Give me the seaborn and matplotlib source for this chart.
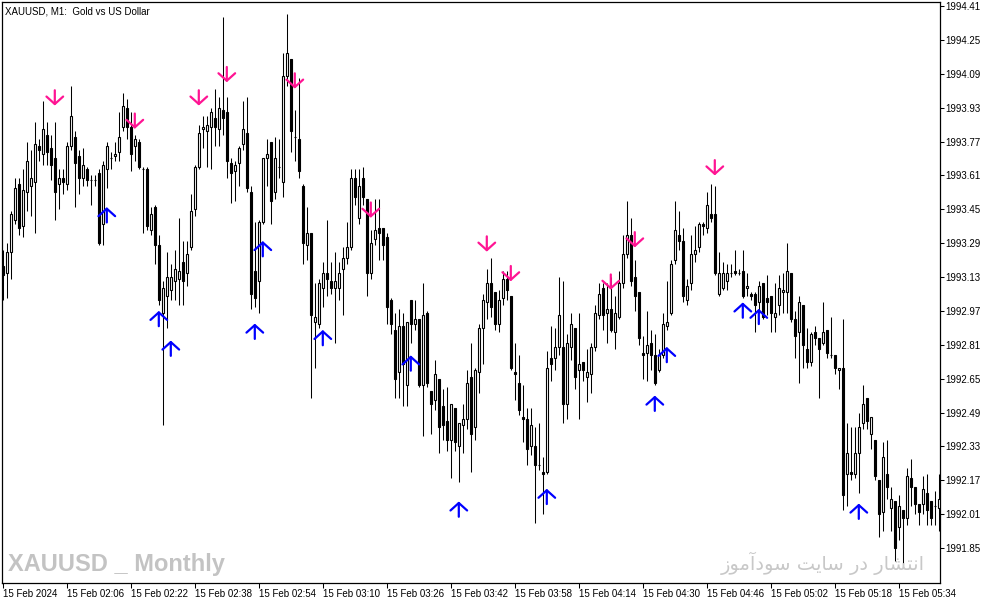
import numpy as np
import pandas as pd
import matplotlib
matplotlib.use("Agg")
import matplotlib.pyplot as plt
import seaborn as sns

# ── Chart data (XAUUSD M1, 15 Feb 2024) ──────────────────────────────────────
opens = [
    1993.18, 1993.15, 1993.25, 1993.40, 1993.57, 1993.37, 1993.53, 1993.56, 1993.58, 1993.75,
    1993.71, 1993.80, 1993.74, 1993.69, 1993.57, 1993.60, 1993.57, 1993.75, 1993.79, 1993.70,
    1993.60, 1993.64, 1993.59, 1993.59, 1993.62, 1993.38, 1993.64, 1993.69, 1993.70, 1993.72,
    1993.84, 1993.93, 1993.84, 1993.75, 1993.77, 1993.64, 1993.64, 1993.35, 1993.46, 1993.28,
    1992.96, 1993.04, 1993.07, 1993.11, 1993.12, 1993.20, 1993.15, 1993.27, 1993.45, 1993.65,
    1993.83, 1993.82, 1993.84, 1993.88, 1993.83, 1993.92, 1993.91, 1993.67, 1993.63, 1993.67,
    1993.76, 1993.81, 1993.53, 1993.16, 1993.11, 1993.39, 1993.69, 1993.77, 1993.53, 1993.65,
    1993.58, 1994.08, 1994.16, 1993.79, 1993.78, 1993.56, 1993.28, 1993.34, 1992.92, 1992.91,
    1993.08, 1993.15, 1993.11, 1993.08, 1993.08, 1993.17, 1993.22, 1993.27, 1993.60, 1993.41,
    1993.60, 1993.50, 1993.15, 1993.31, 1993.36, 1993.36, 1993.32, 1993.02, 1992.88, 1992.68,
    1992.90, 1992.62, 1993.02, 1992.91, 1992.93, 1992.62, 1992.96, 1992.59, 1992.55, 1992.65,
    1992.52, 1992.45, 1992.36, 1992.51, 1992.33, 1992.43, 1992.46, 1992.66, 1992.42, 1992.68,
    1992.89, 1993.01, 1993.10, 1993.06, 1992.91, 1993.03, 1993.12, 1993.04, 1992.68, 1992.63,
    1992.47, 1992.46, 1992.33, 1992.33, 1992.24, 1992.21, 1992.21, 1992.75, 1992.75, 1992.80,
    1992.80, 1992.53, 1992.80, 1992.89, 1992.69, 1992.73, 1992.66, 1992.67, 1992.80, 1992.95,
    1993.08, 1992.96, 1992.98, 1992.87, 1992.94, 1993.10, 1993.24, 1993.33, 1993.13, 1993.06,
    1992.77, 1992.77, 1992.82, 1992.76, 1992.69, 1992.76, 1992.90, 1992.96, 1993.21, 1993.33,
    1993.30, 1993.02, 1993.10, 1993.24, 1993.27, 1993.38, 1993.36, 1993.43, 1993.43, 1993.05,
    1993.08, 1993.11, 1993.15, 1993.16, 1993.15, 1993.16, 1993.08, 1993.05, 1993.05, 1993.01,
    1993.10, 1993.03, 1993.04, 1992.94, 1993.00, 1993.06, 1993.06, 1993.15, 1992.93, 1992.87,
    1993.00, 1992.79, 1992.73, 1992.87, 1992.84, 1992.82, 1992.88, 1992.76, 1992.76, 1992.69,
    1992.70, 1992.20, 1992.21, 1992.20, 1992.30, 1992.44, 1992.56, 1992.39, 1992.36, 1992.17,
    1992.02, 1992.20, 1992.04, 1992.07, 1991.95, 1992.03, 1991.99, 1992.18, 1992.14, 1992.06,
    1992.06, 1992.11, 1992.07, 1992.05, 1992.04,
]
highs = [
    1993.26, 1993.29, 1993.44, 1993.60, 1993.60, 1993.64, 1993.77, 1993.73, 1993.86, 1993.78,
    1993.96, 1993.86, 1993.80, 1993.86, 1993.64, 1993.64, 1993.77, 1994.03, 1993.82, 1993.73,
    1993.74, 1993.65, 1993.61, 1993.61, 1993.64, 1993.68, 1993.77, 1993.72, 1993.77, 1993.91,
    1994.00, 1993.97, 1993.91, 1993.80, 1993.78, 1993.65, 1993.65, 1993.46, 1993.47, 1993.33,
    1993.11, 1993.25, 1993.19, 1993.26, 1993.41, 1993.30, 1993.30, 1993.52, 1993.66, 1993.85,
    1993.89, 1993.89, 1993.93, 1994.02, 1993.98, 1994.36, 1993.98, 1993.69, 1993.68, 1993.75,
    1993.96, 1993.98, 1993.56, 1993.39, 1993.40, 1993.69, 1993.78, 1993.77, 1993.79, 1993.78,
    1994.19, 1994.37, 1994.16, 1993.92, 1994.07, 1993.57, 1993.46, 1993.34, 1993.10, 1993.12,
    1993.20, 1993.40, 1993.20, 1993.25, 1993.20, 1993.27, 1993.39, 1993.64, 1993.64, 1993.64,
    1993.65, 1993.50, 1993.35, 1993.50, 1993.50, 1993.36, 1993.34, 1993.03, 1992.96, 1992.98,
    1992.96, 1992.92, 1993.02, 1993.02, 1992.93, 1993.10, 1992.97, 1992.59, 1992.74, 1992.65,
    1992.60, 1992.61, 1992.53, 1992.51, 1992.44, 1992.53, 1992.69, 1992.82, 1992.70, 1992.91,
    1993.05, 1993.17, 1993.22, 1993.06, 1993.07, 1993.16, 1993.16, 1993.04, 1992.82, 1992.76,
    1992.62, 1992.51, 1992.51, 1992.42, 1992.44, 1992.28, 1992.78, 1992.90, 1992.89, 1993.13,
    1993.11, 1992.86, 1992.96, 1992.89, 1992.96, 1992.73, 1992.79, 1992.82, 1993.00, 1993.10,
    1993.10, 1993.10, 1993.13, 1993.04, 1993.16, 1993.33, 1993.49, 1993.41, 1993.21, 1993.06,
    1992.85, 1992.97, 1992.88, 1992.86, 1992.79, 1992.96, 1993.11, 1993.21, 1993.49, 1993.44,
    1993.36, 1993.12, 1993.33, 1993.37, 1993.39, 1993.39, 1993.53, 1993.57, 1993.56, 1993.25,
    1993.20, 1993.19, 1993.19, 1993.26, 1993.17, 1993.26, 1993.15, 1993.06, 1993.06, 1993.11,
    1993.10, 1993.14, 1993.04, 1993.10, 1993.14, 1993.15, 1993.29, 1993.15, 1992.97, 1993.04,
    1993.00, 1992.89, 1992.87, 1992.90, 1992.84, 1993.01, 1992.88, 1992.94, 1992.76, 1992.70,
    1992.93, 1992.44, 1992.42, 1992.42, 1992.49, 1992.62, 1992.56, 1992.47, 1992.36, 1992.17,
    1992.35, 1992.36, 1992.14, 1992.07, 1992.10, 1992.03, 1992.23, 1992.27, 1992.14, 1992.06,
    1992.19, 1992.20, 1992.07, 1992.12, 1992.20,
]
lows = [
    1993.02, 1993.03, 1993.12, 1993.38, 1993.33, 1993.32, 1993.44, 1993.42, 1993.34, 1993.68,
    1993.66, 1993.66, 1993.59, 1993.40, 1993.45, 1993.52, 1993.54, 1993.73, 1993.46, 1993.52,
    1993.56, 1993.56, 1993.47, 1993.56, 1993.28, 1993.28, 1993.55, 1993.64, 1993.68, 1993.68,
    1993.82, 1993.78, 1993.63, 1993.68, 1993.64, 1993.34, 1993.35, 1993.33, 1993.19, 1993.00,
    1992.43, 1992.89, 1993.02, 1993.02, 1993.00, 1993.00, 1993.09, 1993.26, 1993.42, 1993.64,
    1993.74, 1993.65, 1993.64, 1993.75, 1993.75, 1993.80, 1993.60, 1993.48, 1993.49, 1993.56,
    1993.73, 1993.53, 1992.98, 1992.99, 1992.96, 1993.38, 1993.56, 1993.38, 1993.50, 1993.60,
    1993.51, 1994.03, 1993.72, 1993.68, 1993.60, 1993.19, 1993.21, 1992.56, 1992.70, 1992.89,
    1992.99, 1993.04, 1993.05, 1992.82, 1993.02, 1992.95, 1993.19, 1993.26, 1993.47, 1993.38,
    1993.47, 1993.04, 1993.12, 1993.28, 1993.21, 1993.21, 1992.91, 1992.86, 1992.56, 1992.56,
    1992.52, 1992.52, 1992.82, 1992.88, 1992.61, 1992.38, 1992.61, 1992.39, 1992.50, 1992.30,
    1992.36, 1992.31, 1992.18, 1992.31, 1992.16, 1992.30, 1992.41, 1992.21, 1992.36, 1992.58,
    1992.72, 1992.93, 1992.94, 1992.88, 1992.87, 1993.00, 1993.02, 1992.69, 1992.55, 1992.48,
    1992.35, 1992.24, 1992.29, 1991.97, 1992.22, 1992.01, 1992.20, 1992.64, 1992.69, 1992.76,
    1992.44, 1992.46, 1992.74, 1992.60, 1992.46, 1992.64, 1992.54, 1992.58, 1992.78, 1992.93,
    1992.88, 1992.82, 1992.87, 1992.79, 1992.93, 1993.08, 1993.22, 1993.09, 1992.97, 1992.81,
    1992.65, 1992.64, 1992.69, 1992.62, 1992.68, 1992.75, 1992.88, 1992.95, 1993.19, 1993.26,
    1993.01, 1993.00, 1993.07, 1993.20, 1993.25, 1993.33, 1993.34, 1993.39, 1993.14, 1993.04,
    1993.07, 1993.07, 1993.13, 1993.14, 1993.14, 1993.03, 1993.04, 1993.02, 1992.87, 1992.96,
    1992.93, 1992.95, 1992.87, 1992.87, 1992.95, 1992.96, 1992.96, 1992.92, 1992.75, 1992.63,
    1992.70, 1992.70, 1992.71, 1992.81, 1992.56, 1992.81, 1992.75, 1992.75, 1992.67, 1992.60,
    1992.03, 1992.05, 1992.17, 1992.18, 1992.11, 1992.41, 1992.41, 1992.32, 1992.17, 1991.90,
    1991.93, 1992.08, 1991.93, 1991.79, 1991.89, 1991.76, 1991.96, 1992.05, 1992.01, 1991.96,
    1992.01, 1991.96, 1991.96, 1991.96, 1991.93,
]
closes = [
    1993.14, 1993.25, 1993.43, 1993.55, 1993.36, 1993.54, 1993.68, 1993.60, 1993.76, 1993.73,
    1993.83, 1993.72, 1993.66, 1993.53, 1993.60, 1993.58, 1993.75, 1993.89, 1993.67, 1993.60,
    1993.66, 1993.59, 1993.59, 1993.59, 1993.29, 1993.66, 1993.75, 1993.69, 1993.71, 1993.79,
    1993.94, 1993.84, 1993.71, 1993.78, 1993.65, 1993.64, 1993.37, 1993.43, 1993.28, 1993.02,
    1993.08, 1993.13, 1993.13, 1993.17, 1993.16, 1993.11, 1993.24, 1993.44, 1993.65, 1993.81,
    1993.84, 1993.85, 1993.91, 1993.84, 1993.93, 1993.88, 1993.68, 1993.62, 1993.66, 1993.74,
    1993.83, 1993.55, 1993.05, 1993.03, 1993.39, 1993.69, 1993.71, 1993.49, 1993.69, 1993.65,
    1994.08, 1994.19, 1993.82, 1993.79, 1993.63, 1993.29, 1993.34, 1992.95, 1992.94, 1993.10,
    1993.15, 1993.12, 1993.08, 1993.11, 1993.15, 1993.22, 1993.27, 1993.60, 1993.51, 1993.56,
    1993.51, 1993.15, 1993.29, 1993.35, 1993.34, 1993.28, 1992.99, 1992.91, 1992.65, 1992.90,
    1992.72, 1992.92, 1992.91, 1992.93, 1992.62, 1992.95, 1992.63, 1992.53, 1992.67, 1992.42,
    1992.43, 1992.36, 1992.53, 1992.35, 1992.44, 1992.46, 1992.63, 1992.39, 1992.69, 1992.89,
    1993.02, 1993.10, 1992.99, 1992.91, 1993.02, 1993.12, 1993.07, 1992.70, 1992.67, 1992.50,
    1992.46, 1992.32, 1992.43, 1992.24, 1992.24, 1992.20, 1992.70, 1992.72, 1992.80, 1992.95,
    1992.53, 1992.82, 1992.91, 1992.66, 1992.72, 1992.69, 1992.68, 1992.80, 1992.96, 1993.05,
    1992.95, 1992.98, 1992.88, 1992.96, 1993.10, 1993.24, 1993.33, 1993.11, 1993.04, 1992.84,
    1992.76, 1992.81, 1992.76, 1992.63, 1992.76, 1992.91, 1992.92, 1993.19, 1993.35, 1993.30,
    1993.04, 1993.09, 1993.24, 1993.26, 1993.38, 1993.37, 1993.47, 1993.41, 1993.15, 1993.15,
    1993.15, 1993.15, 1993.15, 1993.15, 1993.15, 1993.04, 1993.09, 1993.04, 1993.00, 1993.09,
    1992.94, 1993.01, 1992.96, 1992.96, 1993.08, 1993.07, 1993.16, 1992.93, 1992.85, 1993.01,
    1992.81, 1992.73, 1992.86, 1992.84, 1992.79, 1992.87, 1992.77, 1992.76, 1992.70, 1992.70,
    1992.10, 1992.30, 1992.20, 1992.30, 1992.42, 1992.53, 1992.45, 1992.47, 1992.19, 1992.01,
    1992.28, 1992.14, 1992.08, 1991.85, 1992.05, 1991.99, 1992.19, 1992.14, 1992.06, 1992.02,
    1992.13, 1992.03, 1991.99, 1992.05, 1992.08,
]

# indicator arrows: bar index + price at the arrow tip
sell_bars   = [13, 33, 49, 56, 73, 92, 121, 127, 152, 158, 178]
sell_prices = [1993.94, 1993.83, 1993.94, 1994.05, 1994.02, 1993.41, 1993.25, 1993.11, 1993.07, 1993.27, 1993.61]
buy_bars    = [26, 39, 42, 63, 65, 80, 102, 114, 136, 163, 166, 185, 189, 214]
buy_prices  = [1993.46, 1992.97, 1992.83, 1992.91, 1993.30, 1992.88, 1992.76, 1992.07, 1992.13, 1992.57, 1992.80,
               1993.01, 1992.98, 1992.06]

price_ticks = [1994.41, 1994.25, 1994.09, 1993.93, 1993.77, 1993.61, 1993.45, 1993.29, 1993.13,
               1992.97, 1992.81, 1992.65, 1992.49, 1992.33, 1992.17, 1992.01, 1991.85]
time_ticks  = [0, 16, 32, 48, 64, 80, 96, 112, 128, 144, 160, 176, 192, 208, 224]
time_labels = ["15 Feb 2024", "15 Feb 02:06", "15 Feb 02:22", "15 Feb 02:38", "15 Feb 02:54",
               "15 Feb 03:10", "15 Feb 03:26", "15 Feb 03:42", "15 Feb 03:58", "15 Feb 04:14",
               "15 Feb 04:30", "15 Feb 04:46", "15 Feb 05:02", "15 Feb 05:18", "15 Feb 05:34"]

TITLE = "XAUUSD, M1:  Gold vs US Dollar"
WATERMARK = "XAUUSD _ Monthly"
# "انتشار در سایت سودآموز" written in shaped presentation forms, visual order
PERSIAN = ("\uFEAF\uFEEE\uFEE3\uFE81\uFEA9\uFEEE\uFEB3 "
           "\uFE96\uFBFE\uFE8E\uFEB3 "
           "\uFEAD\uFEA9 "
           "\uFEAD\uFE8E\uFEB8\uFE98\uFEE7\uFE8D")

# ── Style ────────────────────────────────────────────────────
sns.set_theme(style="white")
plt.rcParams["font.family"] = ["Liberation Sans", "DejaVu Sans"]

df = pd.DataFrame({"open": opens, "high": highs, "low": lows, "close": closes})
df["bar"] = np.arange(len(df))
up = df["close"] >= df["open"]

fig = plt.figure(figsize=(9.94, 6.05), dpi=100)
ax = fig.add_axes([2 / 994, 22 / 605, 938 / 994, 581 / 605])

# wicks
ax.vlines(df["bar"], df["low"], df["high"], color="black", lw=0.75, zorder=2)
# bodies
body_lo = df[["open", "close"]].min(axis=1)
body_h = (df["close"] - df["open"]).abs()
ax.bar(df["bar"], body_h, bottom=body_lo, width=0.58,
       color=np.where(up, "white", "black"), edgecolor="black", lw=0.8, zorder=3)

# arrows
for b, p in zip(sell_bars, sell_prices):
    ax.annotate("", xy=(b, p), xytext=(0, 11), textcoords="offset points",
                arrowprops=dict(arrowstyle="->,head_length=0.45,head_width=0.5",
                                color="#FF1493", lw=1.6, shrinkA=0, shrinkB=0),
                zorder=4)
for b, p in zip(buy_bars, buy_prices):
    ax.annotate("", xy=(b, p), xytext=(0, -11), textcoords="offset points",
                arrowprops=dict(arrowstyle="->,head_length=0.45,head_width=0.5",
                                color="#0000FF", lw=1.6, shrinkA=0, shrinkB=0),
                zorder=4)

ax.set_xlim(-0.2, 234.3)
ax.set_ylim(1991.685, 1994.429)

ax.yaxis.tick_right()
ax.set_yticks(price_ticks)
ax.set_yticklabels([f"{v:.2f}" for v in price_ticks])
ax.set_xticks(time_ticks)
ax.set_xticklabels(time_labels, ha="left")
ax.tick_params(axis="y", direction="out", length=3, width=0.75, pad=1,
               labelsize=7, colors="black", right=True, left=False)
ax.tick_params(axis="x", direction="out", length=3.5, width=0.75, pad=1,
               labelsize=7, colors="black", bottom=True)
for s in ax.spines.values():
    s.set_color("black")
    s.set_linewidth(0.9)
ax.grid(False)

ax.text(0.003, 0.992, TITLE, transform=ax.transAxes, fontsize=7,
        ha="left", va="top", color="black")

fig.text(8 / 994, 1 - 564 / 605, WATERMARK, fontsize=17, fontweight="bold",
         family=["Liberation Sans"], color="#c3c3c3",
         ha="left", va="center")
fig.text(925 / 994, 1 - 563 / 605, PERSIAN, fontsize=14, family=["DejaVu Sans"],
         color="#c8c8c8", ha="right", va="center")

fig.savefig("out.png", dpi=100, facecolor="white")
